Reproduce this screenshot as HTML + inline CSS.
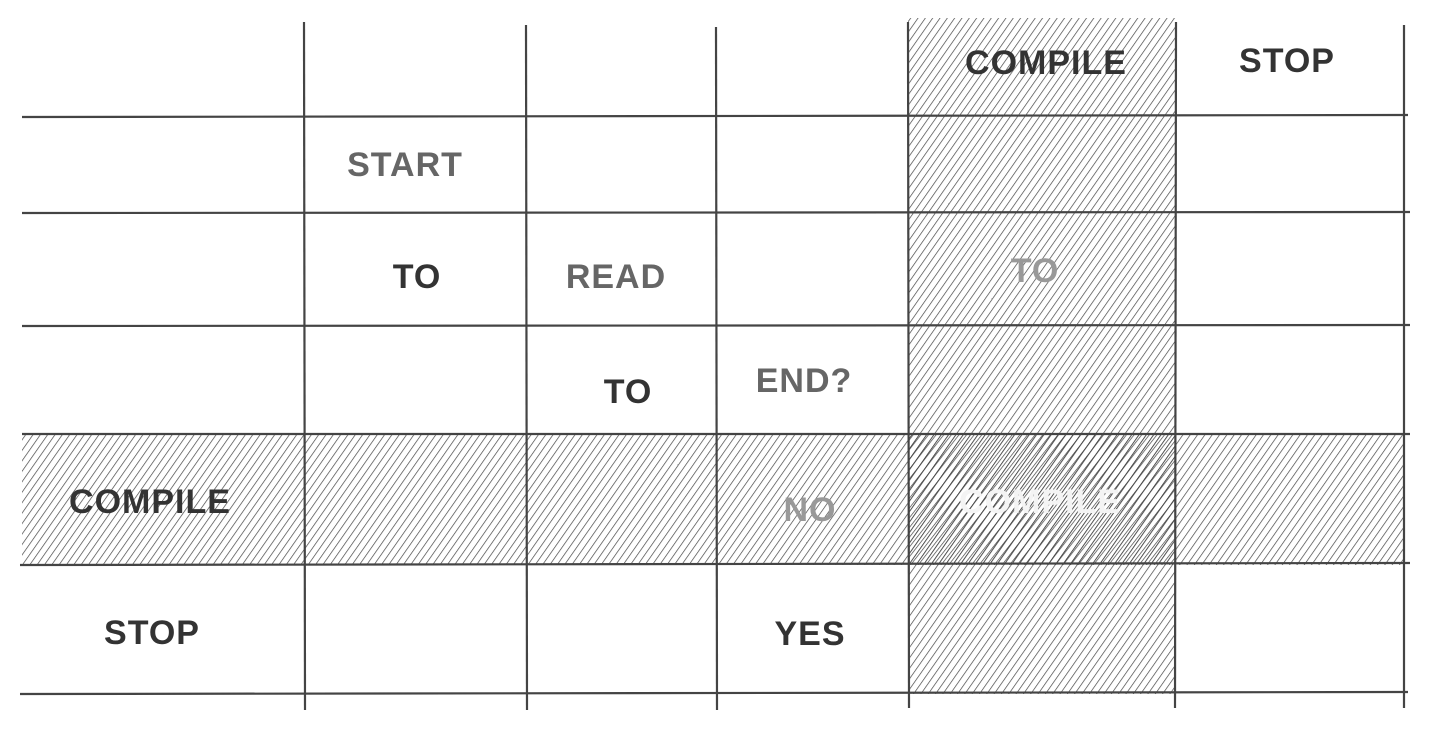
<!DOCTYPE html>
<html><head><meta charset="utf-8"><style>
html,body{margin:0;padding:0;background:#fff;}
svg{display:block}
text{font-family:"Liberation Sans",sans-serif;font-size:34px;font-weight:bold;letter-spacing:1px;text-anchor:middle;}
</style></head><body>
<svg width="1431" height="730" viewBox="0 0 1431 730" xmlns="http://www.w3.org/2000/svg">
<defs>
<pattern id="h" width="6" height="6" patternUnits="userSpaceOnUse" patternTransform="rotate(35)">
<line x1="0" y1="0" x2="0" y2="6" stroke="#444" stroke-width="1.4"/>
</pattern>
<pattern id="h2" width="6" height="6" patternUnits="userSpaceOnUse" patternTransform="rotate(38) translate(3,0)">
<line x1="0" y1="0" x2="0" y2="6" stroke="#444" stroke-width="1.4"/>
</pattern>
</defs>
<rect x="908" y="18" width="268" height="676" fill="url(#h)"/>
<rect x="22" y="434" width="1382" height="131" fill="url(#h)"/>
<rect x="908" y="434" width="268" height="131" fill="url(#h2)"/>
<g stroke="#444" stroke-width="2.2" fill="none">
<line x1="22" y1="117" x2="1408" y2="115"/>
<line x1="22" y1="213" x2="1410" y2="212"/>
<line x1="22" y1="326" x2="1410" y2="325"/>
<line x1="22" y1="434" x2="1410" y2="434"/>
<line x1="20" y1="565" x2="1410" y2="563"/>
<line x1="20" y1="694" x2="1408" y2="692"/>
<line x1="304" y1="22" x2="305" y2="710"/>
<line x1="526" y1="25" x2="527" y2="710"/>
<line x1="716" y1="27" x2="717" y2="710"/>
<line x1="908" y1="22" x2="909" y2="708"/>
<line x1="1176" y1="22" x2="1175" y2="708"/>
<line x1="1404" y1="25" x2="1404" y2="708"/>
</g>
<text x="1046" y="74" fill="#333">COMPILE</text>
<text x="1287" y="72" fill="#333">STOP</text>
<text x="405" y="176" fill="#666">START</text>
<text x="417" y="288" fill="#333">TO</text>
<text x="616" y="288" fill="#666">READ</text>
<text x="1035" y="282" fill="#999">TO</text>
<text x="628" y="403" fill="#333">TO</text>
<text x="804" y="392" fill="#666">END?</text>
<text x="150" y="513" fill="#333">COMPILE</text>
<text x="810" y="521" fill="#999">NO</text>
<text x="1040" y="513" fill="#f4f4f4">COMPILE</text>
<text x="152" y="644" fill="#333">STOP</text>
<text x="810" y="645" fill="#333">YES</text>
</svg>
</body></html>
